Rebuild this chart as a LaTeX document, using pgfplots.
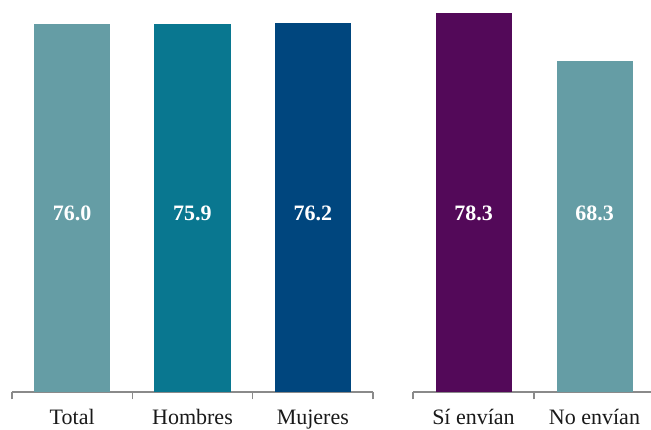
\documentclass[border=0pt]{standalone}
\usepackage{fontspec}
\setmainfont{Liberation Serif}
\usepackage{pgfplots}
\pgfplotsset{compat=1.18}
\definecolor{cTotal}{HTML}{659DA5}
\definecolor{cHom}{HTML}{097790}
\definecolor{cMuj}{HTML}{00467E}
\definecolor{cSi}{HTML}{530959}
\definecolor{cAxis}{HTML}{8A8A8A}
\tikzset{valnode/.style={font=\fontsize{22}{26}\selectfont\bfseries, text=white, anchor=center}}
\pgfplotsset{
  mybars/.style={
    scale only axis,
    height=392pt,
    ymin=0, ymax=80.96,
    axis y line=none,
    axis x line*=bottom,
    x axis line style={-, cAxis, line width=1.1pt},
    ybar, bar width=76pt,
    xtick={0,1,2},
    major tick length=0pt,
    minor tick length=7.5pt,
    tick align=outside,
    minor tick style={cAxis, line width=1.1pt},
    xticklabel style={anchor=base, yshift=-33pt, font=\fontsize{22}{26}\selectfont, text=black!90},
    clip=false,
  },
}
\begin{document}
\begin{tikzpicture}
\useasboundingbox (0,0) rectangle (651pt,430pt);
\begin{axis}[mybars,
  at={(12pt,38pt)}, anchor=south west,
  width=361pt,
  xmin=-0.5, xmax=2.5,
  xtick={0,1,2},
  xticklabels={Total,Hombres,Mujeres},
  minor xtick={-0.5,0.5,1.5,2.5},
]
\addplot[fill=cTotal, draw=none, bar shift=0pt] coordinates {(0,76.0)};
\addplot[fill=cHom, draw=none, bar shift=0pt] coordinates {(1,75.9)};
\addplot[fill=cMuj, draw=none, bar shift=0pt] coordinates {(2,76.2)};
\node[valnode] at (axis cs:0,36.9) {76.0};
\node[valnode] at (axis cs:1,36.9) {75.9};
\node[valnode] at (axis cs:2,36.9) {76.2};
\end{axis}
\begin{axis}[mybars,
  at={(413pt,38pt)}, anchor=south west,
  width=242pt,
  xmin=-0.5, xmax=1.5,
  xtick={0,1},
  xticklabels={Sí envían,No envían},
  minor xtick={-0.5,0.5,1.5},
]
\addplot[fill=cSi, draw=none, bar shift=0pt] coordinates {(0,78.3)};
\addplot[fill=cTotal, draw=none, bar shift=0pt] coordinates {(1,68.3)};
\node[valnode] at (axis cs:0,36.9) {78.3};
\node[valnode] at (axis cs:1,36.9) {68.3};
\end{axis}
\end{tikzpicture}
\end{document}
